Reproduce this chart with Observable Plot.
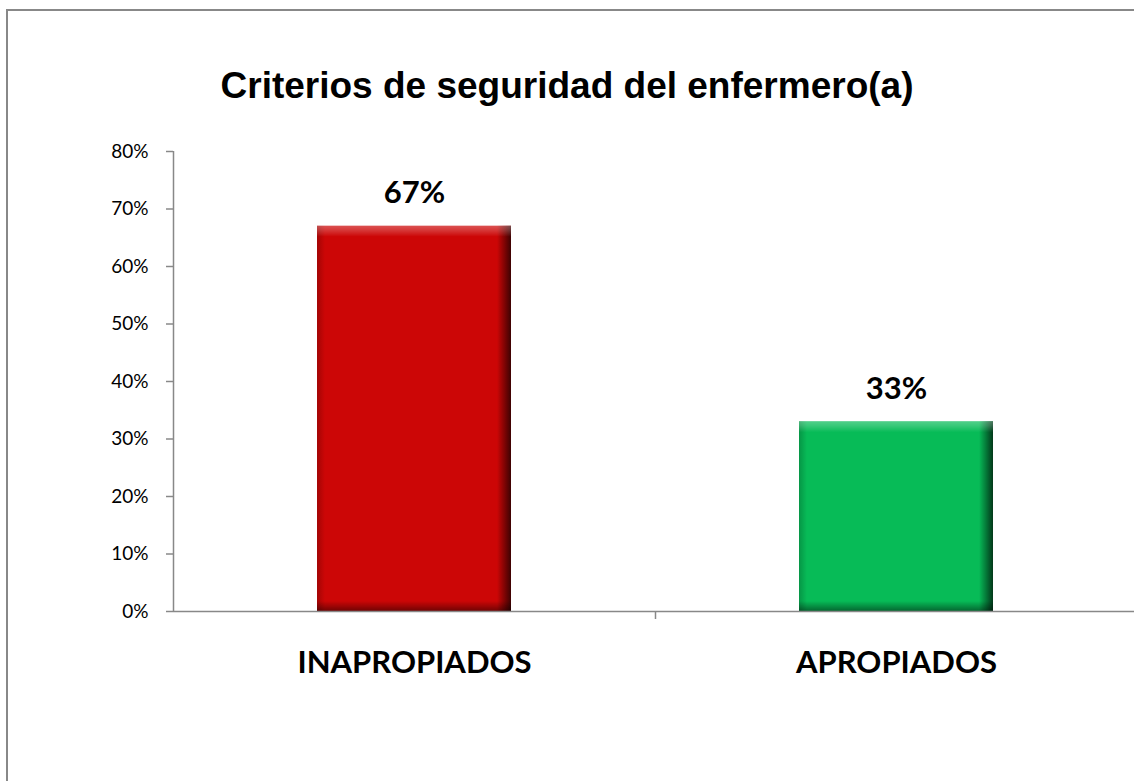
<!DOCTYPE html>
<html><head><meta charset="utf-8">
<script src="https://cdn.jsdelivr.net/npm/d3@7"></script>
<script src="https://cdn.jsdelivr.net/npm/@observablehq/plot@0.6"></script>
<style>
html,body{margin:0;padding:0;overflow:hidden;background:#fff;width:1134px;height:781px;}
#frame{position:absolute;left:6px;top:9px;width:1200px;height:900px;border:2px solid #888;box-sizing:border-box;}
#title{position:absolute;left:0;width:1134px;top:68px;text-align:center;font:bold 37px "Liberation Sans",Arial,sans-serif;line-height:36px;color:#000;}
#chart{position:absolute;left:0;top:0;}
</style></head><body>
<div id="frame"></div>
<div id="title">Criterios de seguridad del enfermero(a)</div>
<div id="chart"></div>
<script>
const categories = ["INAPROPIADOS", "APROPIADOS"];
const values = [0.67, 0.33];
const barColors = ["#cc0606", "#07bb57"];
const yTicks = [0, 0.1, 0.2, 0.3, 0.4, 0.5, 0.6, 0.7, 0.8];

const data = categories.map((c, i) => ({i, category: c, value: values[i], color: barColors[i]}));
const bar = {x1: d => d.i, x2: d => d.i + 1, insetLeft: 144, insetRight: 144};

const plot = Plot.plot({
  width: 1134,
  height: 781,
  marginLeft: 173,
  marginRight: 0,
  marginTop: 151,
  marginBottom: 170,
  style: {fontFamily: "Lato, sans-serif", background: "transparent", overflow: "visible"},
  x: {domain: [0, 2], range: [173, 1137], axis: null},
  y: {domain: [0, 0.8], range: [611, 151], axis: null, label: null},
  marks: [
    Plot.rectY(data, {...bar, y: "value", fill: "color"}),
    // bevel: right, left, top, bottom edges
    Plot.rectY(data, {...bar, y: "value", insetLeft: 144 + 180, fill: "url(#dk-right)"}),
    Plot.rectY(data, {...bar, y: "value", insetRight: 144 + 186, fill: "url(#dk-left)"}),
    Plot.rectY(data, {...bar, y1: "value", y2: "value", insetBottom: -11, fill: "url(#hl-top)"}),
    Plot.rectY(data, {...bar, y1: 0, y2: 0, insetTop: -10, fill: "url(#dk-bottom)"}),
    Plot.ruleX([0], {y1: 0, y2: 0.8, stroke: "#888", strokeWidth: 1.5}),
    Plot.ruleY([0], {stroke: "#888", strokeWidth: 1.5}),
    Plot.ruleX([1], {y1: 0, y2: 0, insetBottom: -8, stroke: "#888", strokeWidth: 1.5}),
    Plot.axisY({ticks: yTicks, tickFormat: d3.format(".0%"), label: null, tickSize: 7, tickPadding: 18, fontSize: 19, stroke: "#888", strokeWidth: 1.5, fill: "#000"}),
    Plot.text(data, {x: d => d.i + 0.5, y: 0, text: "category", dy: 52, fontSize: 31, fontWeight: "bold", fill: "#000"}),
    Plot.text(data, {x: d => d.i + 0.5, y: "value", text: d => d3.format(".0%")(d.value), dy: -33, fontSize: 31, fontWeight: "bold", fill: "#000"})
  ]
});

const svg = d3.select(plot);
const defs = svg.insert("defs", ":first-child");
function grad(id, x2, y2, stops) {
  const g = defs.append("linearGradient").attr("id", id).attr("x1", 0).attr("y1", 0).attr("x2", x2).attr("y2", y2);
  stops.forEach(([o, c, a]) => g.append("stop").attr("offset", o).attr("stop-color", c).attr("stop-opacity", a));
}
grad("dk-right", 1, 0, [[0, "#000", 0], [1, "#000", 0.7]]);
grad("dk-left", 1, 0, [[0, "#000", 0.2], [1, "#000", 0]]);
grad("hl-top", 0, 1, [[0, "#fff", 0.3], [0.4, "#fff", 0.2], [1, "#fff", 0]]);
grad("dk-bottom", 0, 1, [[0, "#000", 0], [1, "#000", 0.45]]);

document.getElementById("chart").appendChild(plot);
</script>
</body></html>
